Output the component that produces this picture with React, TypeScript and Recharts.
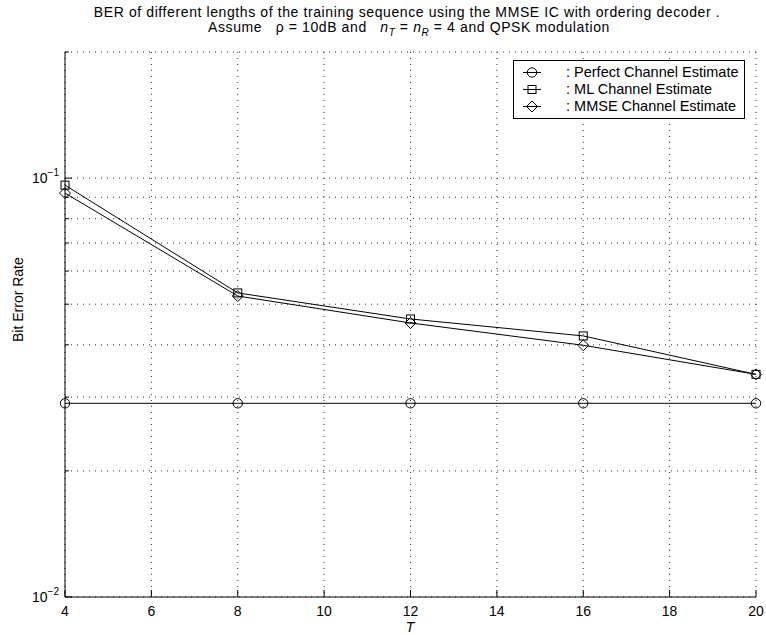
import { LineChart, Line, XAxis, YAxis, CartesianGrid } from 'recharts'

const T_VALUES = [4, 8, 12, 16, 20]
const PERFECT_BER = [0.029, 0.029, 0.029, 0.029, 0.029]
const ML_BER = [0.0962, 0.0532, 0.0461, 0.042, 0.034]
const MMSE_BER = [0.0921, 0.0523, 0.0451, 0.0399, 0.034]

const X_TICKS = [4, 6, 8, 10, 12, 14, 16, 18, 20]
const Y_TICKS = [0.01, 0.02, 0.03, 0.04, 0.05, 0.06, 0.07, 0.08, 0.09, 0.1, 0.2]
const Y_MAJOR = [0.01, 0.1]

const SERIES = [
  { key: 'perfect', name: ': Perfect Channel Estimate', marker: 'circle' },
  { key: 'ml', name: ': ML Channel Estimate', marker: 'square' },
  { key: 'mmse', name: ': MMSE Channel Estimate', marker: 'diamond' },
]

const data = T_VALUES.map((t, i) => ({
  t,
  perfect: PERFECT_BER[i],
  ml: ML_BER[i],
  mmse: MMSE_BER[i],
}))

const FONT = '"Liberation Sans", Arial, Helvetica, sans-serif'

function marker(kind: string, cx: number, cy: number, key?: string) {
  if (kind === 'circle') {
    return <circle key={key} cx={cx} cy={cy} r={4.7} fill="none" stroke="#000" strokeWidth={1} />
  }
  if (kind === 'square') {
    return <rect key={key} x={cx - 4} y={cy - 4} width={8} height={8} fill="none" stroke="#000" strokeWidth={1} />
  }
  const d = 5.5
  return (
    <path
      key={key}
      d={`M${cx},${cy - d}L${cx + d},${cy}L${cx},${cy + d}L${cx - d},${cy}Z`}
      fill="none"
      stroke="#000"
      strokeWidth={1}
    />
  )
}

function LeftTick({ x, y, payload }: any) {
  const major = Y_MAJOR.includes(payload.value)
  const exp = Math.round(Math.log10(payload.value))
  return (
    <g>
      <line x1={x} x2={x + (major ? 7 : 4)} y1={y} y2={y} stroke="#000" />
      {major && (
        <text x={x - 6} y={y + 5} textAnchor="end" fontSize={14} fontFamily={FONT} fill="#000">
          10
          <tspan dy={-7} fontSize={10}>
            {'\u2212' + -exp}
          </tspan>
        </text>
      )}
    </g>
  )
}

function RightTick({ x, y, payload }: any) {
  const major = Y_MAJOR.includes(payload.value)
  return <line x1={x} x2={x - (major ? 7 : 4)} y1={y} y2={y} stroke="#000" />
}

function BottomTick({ x, y, payload }: any) {
  return (
    <g>
      <line x1={x} x2={x} y1={y} y2={y - 7} stroke="#000" />
      <text x={x} y={y + 19} textAnchor="middle" fontSize={14} fontFamily={FONT} fill="#000">
        {payload.value}
      </text>
    </g>
  )
}

function TopTick({ x, y }: any) {
  return <line x1={x} x2={x} y1={y} y2={y + 7} stroke="#000" />
}

function LegendBox() {
  return (
    <div
      style={{
        position: 'absolute',
        left: 513,
        top: 60,
        width: 232,
        boxSizing: 'border-box',
        border: '1px solid #000',
        background: '#fff',
        padding: '3px 0 3px 6px',
        fontFamily: FONT,
        fontSize: 14.5,
        lineHeight: '17px',
      }}
    >
      {SERIES.map((s) => (
        <div key={s.key} style={{ display: 'flex', alignItems: 'center', whiteSpace: 'pre' }}>
          <svg width={46} height={17}>
            <line x1={3} x2={21} y1={8.5} y2={8.5} stroke="#000" />
            {marker(s.marker, 12, 8.5)}
          </svg>
          <span>{s.name}</span>
        </div>
      ))}
    </div>
  )
}

const titleLine = {
  position: 'absolute' as const,
  transform: 'translateX(-50%)',
  fontSize: 14,
  letterSpacing: '0.6px',
  lineHeight: '13px',
  whiteSpace: 'pre' as const,
}

const sub = { fontSize: 10, position: 'relative' as const, top: 4, fontStyle: 'italic' }

export default function App() {
  return (
    <div
      style={{
        position: 'absolute',
        left: 0,
        top: 0,
        width: 766,
        height: 635,
        background: '#fff',
        fontFamily: FONT,
        color: '#000',
      }}
    >
      <div style={{ ...titleLine, left: 407, top: 6 }}>
        BER of different lengths of the training sequence using the MMSE IC with ordering decoder .
      </div>
      <div style={{ ...titleLine, left: 409, top: 21 }}>
        {'Assume   \u03c1 = 10dB and   '}
        <i>n</i>
        <span style={sub}>T</span>
        {' = '}
        <i>n</i>
        <span style={sub}>R</span>
        {' = 4 and QPSK modulation'}
      </div>
      <LineChart width={766} height={635} data={data} margin={{ top: 52, right: 10, left: 0, bottom: 0 }}>
        <CartesianGrid stroke="#333" strokeDasharray="1 5" />
        <XAxis
          dataKey="t"
          type="number"
          domain={[4, 20]}
          ticks={X_TICKS}
          interval={0}
          height={38}
          tickSize={0}
          tickMargin={0}
          tickLine={false}
          axisLine={{ stroke: '#000' }}
          tick={<BottomTick />}
        />
        <XAxis
          xAxisId="top"
          orientation="top"
          dataKey="t"
          type="number"
          domain={[4, 20]}
          ticks={X_TICKS}
          interval={0}
          height={0}
          tickSize={0}
          tickMargin={0}
          tickLine={false}
          axisLine={{ stroke: '#000' }}
          tick={<TopTick />}
        />
        <YAxis
          scale="log"
          domain={[0.01, 0.2]}
          ticks={Y_TICKS}
          interval={0}
          allowDataOverflow
          width={65}
          tickSize={0}
          tickMargin={0}
          tickLine={false}
          axisLine={{ stroke: '#000' }}
          tick={<LeftTick />}
        />
        <YAxis
          yAxisId="right"
          orientation="right"
          scale="log"
          domain={[0.01, 0.2]}
          ticks={Y_TICKS}
          interval={0}
          allowDataOverflow
          width={0}
          tickSize={0}
          tickMargin={0}
          tickLine={false}
          axisLine={{ stroke: '#000' }}
          tick={<RightTick />}
        />
        {SERIES.map((s) => (
          <Line
            key={s.key}
            dataKey={s.key}
            name={s.name}
            stroke="#000"
            strokeWidth={1}
            isAnimationActive={false}
            dot={(p: any) => marker(s.marker, p.cx, p.cy, `${s.key}-${p.index}`)}
            activeDot={false}
          />
        ))}
      </LineChart>
      <LegendBox />
      <div
        style={{
          position: 'absolute',
          left: 0,
          top: 324,
          width: 36,
          textAlign: 'center',
          fontSize: 14,
          lineHeight: '16px',
          whiteSpace: 'pre',
          transform: 'translateY(-50%) rotate(-90deg)',
        }}
      >
        Bit Error Rate
      </div>
      <div
        style={{
          position: 'absolute',
          left: 410,
          top: 620,
          transform: 'translateX(-50%)',
          fontSize: 14,
          lineHeight: '14px',
          fontStyle: 'italic',
        }}
      >
        T
      </div>
    </div>
  )
}
